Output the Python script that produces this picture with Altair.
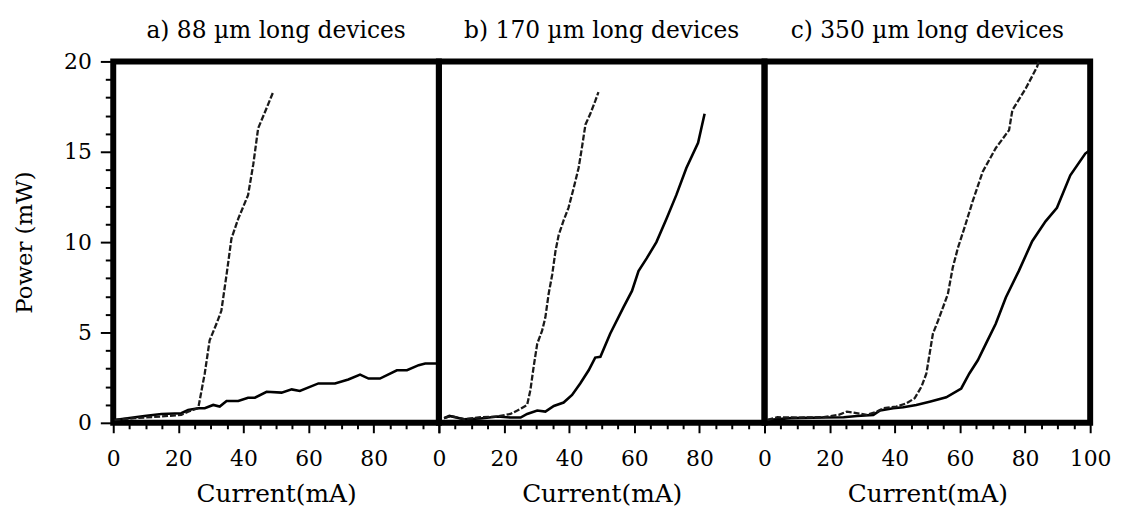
import altair as alt
import pandas as pd

# ---------------- data ----------------
titles = ["a) 88 \u00b5m long devices", "b) 170 \u00b5m long devices", "c) 350 \u00b5m long devices"]

a_dash_x = [0.4, 6.6, 14.8, 20.9, 23.0, 26.1, 28.1, 29.6, 31.7, 33.2, 34.8, 36.3, 38.4, 41.4, 43.0, 44.5, 46.6, 49.1]
a_dash_y = [0.16, 0.26, 0.35, 0.44, 0.62, 0.81, 2.73, 4.56, 5.48, 6.2, 8.2, 10.2, 11.3, 12.6, 14.3, 16.3, 17.2, 18.3]

a_solid_x = [0.4, 9.6, 14.8, 20.9, 23.0, 26.1, 28.1, 30.7, 32.7, 34.8, 38.4, 41.4, 43.5, 47.1, 51.7, 54.8,
             57.3, 63.0, 68.1, 72.2, 75.8, 78.4, 81.9, 87.1, 90.2, 93.8, 95.8, 99.4]
a_solid_y = [0.16, 0.38, 0.49, 0.53, 0.71, 0.81, 0.81, 0.99, 0.90, 1.21, 1.21, 1.39, 1.39, 1.72, 1.67, 1.85,
             1.76, 2.18, 2.18, 2.40, 2.67, 2.45, 2.45, 2.91, 2.91, 3.19, 3.28, 3.28]

b_dash_x = [1.6, 3.7, 7.7, 12.8, 18.0, 22.0, 24.1, 27.1, 28.1, 29.1, 30.2, 31.7, 32.7, 33.7, 34.8, 35.8,
            36.8, 38.3, 39.8, 41.4, 42.9, 43.9, 45.0, 46.5, 48.0, 49.0]
b_dash_y = [0.26, 0.38, 0.20, 0.31, 0.35, 0.49, 0.68, 0.99, 1.81, 3.1, 4.38, 5.1, 5.84, 7.13, 8.2, 9.5,
            10.4, 11.2, 11.9, 13.0, 14.1, 15.2, 16.5, 17.1, 17.8, 18.3]

b_solid_x = [1.6, 3.2, 7.7, 12.8, 18.0, 22.0, 25.1, 27.1, 30.2, 32.7, 35.3, 38.3, 40.9, 43.4, 46.0, 48.0,
             49.6, 52.6, 56.7, 59.3, 61.3, 63.8, 66.8, 69.9, 72.9, 76.0, 79.6, 80.6, 81.6]
b_solid_y = [0.26, 0.38, 0.20, 0.24, 0.35, 0.29, 0.29, 0.49, 0.68, 0.62, 0.93, 1.12, 1.54, 2.18, 2.91, 3.61,
             3.65, 4.93, 6.4, 7.3, 8.4, 9.1, 10.0, 11.3, 12.6, 14.1, 15.5, 16.3, 17.1]

c_dash_x = [0.9, 4.0, 10.1, 18.2, 22.8, 25.3, 27.3, 31.4, 34.5, 36.5, 40.5, 43.6, 46.1, 48.2, 49.7, 50.7,
            51.7, 53.3, 54.8, 56.3, 57.8, 59.4, 61.4, 63.9, 67.0, 71.0, 75.1, 76.1, 80.2, 83.7, 84.2]
c_dash_y = [0.16, 0.31, 0.29, 0.31, 0.44, 0.62, 0.57, 0.44, 0.62, 0.81, 0.90, 1.08, 1.36, 2.0, 2.73, 3.83,
            4.93, 5.66, 6.39, 7.13, 8.59, 9.69, 10.8, 12.25, 13.9, 15.2, 16.2, 17.3, 18.5, 19.7, 20.0]

c_solid_x = [0.9, 8.0, 18.2, 24.3, 28.4, 33.4, 35.5, 39.5, 42.6, 46.6, 50.7, 55.8, 60.4, 62.9, 65.5, 68.0,
             71.0, 74.1, 78.1, 82.2, 86.3, 89.8, 93.9, 98.5, 100.0]
c_solid_y = [0.16, 0.26, 0.29, 0.31, 0.38, 0.44, 0.68, 0.81, 0.86, 0.99, 1.17, 1.41, 1.9, 2.73, 3.46, 4.38,
             5.48, 6.94, 8.41, 10.05, 11.15, 11.9, 13.7, 14.9, 15.1]

x_ticks_short = [0, 20, 40, 60, 80]
x_ticks_full = [0, 20, 40, 60, 80, 100]
y_ticks = [0, 5, 10, 15, 20]

FONT = "DejaVu Serif"


def frame(xs, ys):
    return pd.DataFrame({"current": xs, "power": ys})


def panel(solid, dash, title, show_y, labelled, title_offset):
    x_scale = alt.Scale(domain=[0, 100], nice=False, zero=False)
    y_scale = alt.Scale(domain=[0, 20], nice=False, zero=False)
    lab_list = ",".join(str(v) for v in labelled)
    x_axis = alt.Axis(
        values=list(range(0, 101, 5)),
        labelExpr=f"indexof([{lab_list}], datum.value) >= 0 ? datum.label : ''",
        tickSize={"condition": {"test": "datum.value % 20 === 0", "value": 10}, "value": 6},
        tickWidth=2, tickColor="black", domain=False, grid=False,
        labelFont=FONT, labelFontSize=22, labelColor="black", labelPadding=16,
        labelFlush=False, labelOverlap=False, labelBound=False,
        title="Current(mA)", titleFont=FONT, titleFontSize=25, titleFontWeight="normal",
        titleColor="black", titlePadding=12,
    )
    if show_y:
        ylab = ",".join(str(v) for v in y_ticks)
        y_axis = alt.Axis(
            values=list(range(0, 21)),
            labelExpr=f"indexof([{ylab}], datum.value) >= 0 ? datum.label : ''",
            tickSize={"condition": {"test": "datum.value % 5 === 0", "value": 13}, "value": 8},
            tickWidth=2, tickColor="black", domain=False, grid=False,
            labelFont=FONT, labelFontSize=22, labelColor="black", labelPadding=9,
            labelFlush=False, labelOverlap=False,
            title="Power (mW)", titleFont=FONT, titleFontSize=23, titleFontWeight="normal",
            titleColor="black", titlePadding=27,
        )
    else:
        y_axis = None
    y_enc = alt.Y("power:Q", scale=y_scale, axis=y_axis)
    x_enc = alt.X("current:Q", scale=x_scale, axis=x_axis)
    solid_line = alt.Chart(solid).mark_line(color="black", strokeWidth=2.6).encode(x=x_enc, y=y_enc)
    dash_line = alt.Chart(dash).mark_line(color="#1a1a1a", strokeWidth=2.3, strokeDash=[6, 2]).encode(x=x_enc, y=y_enc)
    return alt.layer(solid_line, dash_line).properties(
        width=328, height=364,
        title=alt.TitleParams(text=title, font=FONT, fontSize=23.5, fontWeight="normal", color="black",
                              anchor="middle", offset=title_offset),
    )


pa = panel(frame(a_solid_x, a_solid_y), frame(a_dash_x, a_dash_y), titles[0], True, x_ticks_short, 8)
pb = panel(frame(b_solid_x, b_solid_y), frame(b_dash_x, b_dash_y), titles[1], False, x_ticks_short, 19)
pc = panel(frame(c_solid_x, c_solid_y), frame(c_dash_x, c_dash_y), titles[2], False, x_ticks_full, 15)

chart = alt.hconcat(pa, pb, pc, spacing=0, bounds="flush").properties(
    padding={"left": 3, "top": 5, "right": 0, "bottom": 0}
).configure(background="white").configure_view(stroke="black", strokeWidth=6)

chart.save("out.html", embed_options={"renderer": "svg", "actions": False})
